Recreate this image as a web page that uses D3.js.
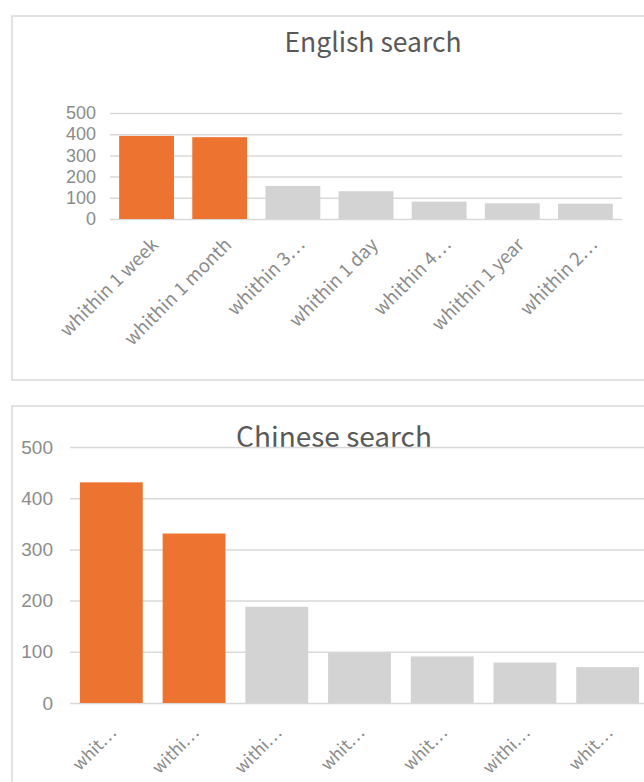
<!DOCTYPE html>
<html>
<head>
<meta charset="utf-8">
<script src="https://cdn.jsdelivr.net/npm/d3@7"></script>
<style>
  html, body { margin: 0; padding: 0; background: #fff; }
  svg { display: block; }
  text { font-family: "Noto Sans CJK SC", "Noto Sans", sans-serif; }
</style>
</head>
<body>
<svg id="chart" width="644" height="782"></svg>
<script>
// ---- data ----
const englishCategories = ["whithin 1 week", "whithin 1 month", "whithin 3\u22EF", "whithin 1 day", "whithin 4\u22EF", "whithin 1 year", "whithin 2\u22EF"];
const englishValues = [392, 386, 156, 131, 82, 74, 72];
const chineseCategories = ["whit\u22EF", "withi\u22EF", "withi\u22EF", "whit\u22EF", "whit\u22EF", "withi\u22EF", "whit\u22EF"];
const chineseValues = [431, 331, 188, 98, 91, 79, 70];
const highlightCount = 2;
const yTicks = [0, 100, 200, 300, 400, 500];

const ORANGE = "#ed7430";
const GRAY = "#d3d3d3";
const GRID = "#d9d9d9";
const TEXT = "#595959";
const TICK = "#8c8c8c";

const svg = d3.select("#chart");

function drawChart(opt) {
  const g = svg.append("g");
  // outer box
  g.append("rect")
    .attr("x", opt.box[0]).attr("y", opt.box[1])
    .attr("width", opt.box[2]).attr("height", opt.box[3])
    .attr("fill", "none").attr("stroke", GRID).attr("stroke-width", 1.5);

  // title
  g.append("text")
    .attr("x", opt.titleX).attr("y", opt.titleY)
    .attr("text-anchor", "middle")
    .attr("fill", TEXT)
    .style("font-size", opt.titleSize + "px")
    .text(opt.title);

  const x = d3.scaleBand().domain(d3.range(opt.cats.length))
    .range([opt.x0, opt.x1]).paddingInner(opt.pad).paddingOuter(opt.pad / 2);
  const y = d3.scaleLinear().domain([0, 500]).range([opt.yBottom, opt.yTop]);

  // gridlines + y labels
  const yAxis = d3.axisLeft(y).tickValues(yTicks).tickSize(-(opt.gridEnd - opt.x0)).tickPadding(opt.tickPad);
  const ya = g.append("g").attr("transform", `translate(${opt.x0},0)`).call(yAxis);
  ya.select(".domain").remove();
  ya.selectAll(".tick line").attr("stroke", GRID).attr("stroke-width", 1.5);
  ya.selectAll(".tick text").attr("fill", TICK).style("font-size", opt.tickSize + "px")
    .style("font-family", "\"Liberation Sans\", Arial, sans-serif");

  // bars
  g.selectAll("rect.bar").data(opt.vals).enter().append("rect")
    .attr("class", "bar")
    .attr("x", (d, i) => x(i))
    .attr("width", x.bandwidth())
    .attr("y", d => y(d))
    .attr("height", d => y(0) - y(d))
    .attr("fill", (d, i) => i < highlightCount ? ORANGE : GRAY);

  // x labels rotated
  g.selectAll("text.xl").data(opt.cats).enter().append("text")
    .attr("class", "xl")
    .attr("text-anchor", "end")
    .attr("fill", TICK)
    .style("font-size", opt.labelSize + "px")
    .attr("transform", (d, i) => `translate(${x(i) + x.bandwidth() / 2 + opt.labelDx},${opt.labelY}) rotate(-45)`)
    .text(d => d);
}

drawChart({
  box: [12, 16, 660, 364],
  title: "English search", titleX: 373, titleY: 52, titleSize: 26.5,
  cats: englishCategories, vals: englishValues,
  x0: 110, x1: 622, gridEnd: 622, pad: 0.25,
  yTop: 113, yBottom: 219, tickPad: 14, tickSize: 18,
  labelSize: 18.5, labelDx: 13, labelY: 246
});

drawChart({
  box: [12, 406, 660, 400],
  title: "Chinese search", titleX: 334, titleY: 447, titleSize: 28,
  cats: chineseCategories, vals: chineseValues,
  x0: 70, x1: 649, gridEnd: 650, pad: 0.24,
  yTop: 447, yBottom: 703, tickPad: 17, tickSize: 19,
  labelSize: 17, labelDx: 6, labelY: 734
});
</script>
</body>
</html>
